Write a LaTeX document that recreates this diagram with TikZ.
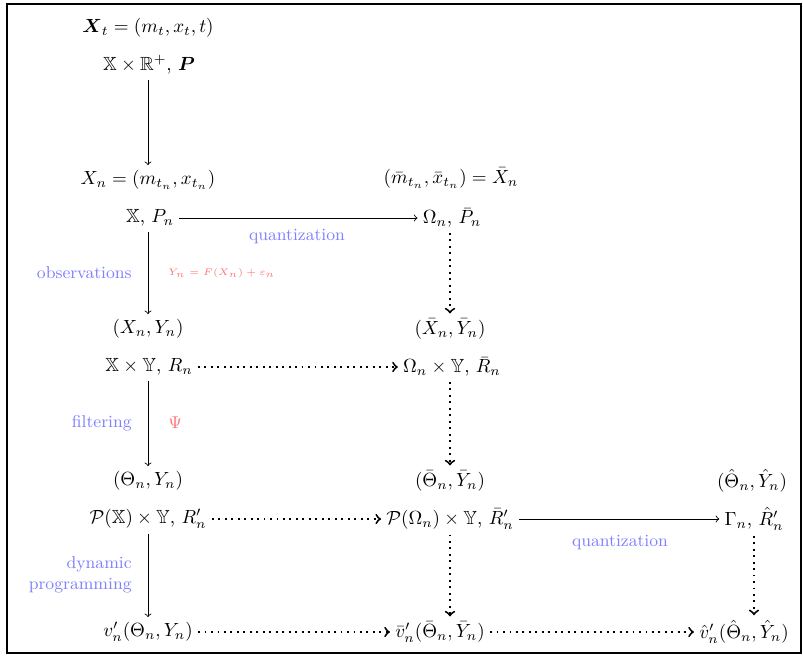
\documentclass[tikz,border=0pt]{standalone}
\usepackage{amsmath,amssymb}
\usetikzlibrary{arrows}
\begin{document}
\begin{tikzpicture}[x=0.525pt,y=-0.525pt,
  every node/.style={inner sep=2.6pt},
  solidarrow/.style={->,line width=0.45pt},
  dotarrow/.style={->,line width=1pt,dash pattern=on 1pt off 2.4pt},
  bluelabel/.style={text=blue!50,font=\small},
  redlabel/.style={text=red!55}]
\useasboundingbox (0,0) rectangle (803,660);
\draw[line width=1.5pt] (7,4) rectangle (801,653);
% column 1
\node (Xt)  at (148,28)  {$\boldsymbol{X}_t = (m_t, x_t, t)$};
\node (XR)  at (149,65)  {$\mathbb{X}\times\mathbb{R}^+$, $\boldsymbol{P}$};
\node (XnL) at (148,180) {$X_n = (m_{t_n}, x_{t_n})$};
\node (XP)  at (150,218) {$\mathbb{X}$, $P_n$};
\node (XYL) at (148,329) {$(X_n, Y_n)$};
\node (XY)  at (149,367) {$\mathbb{X}\times\mathbb{Y}$, $R_n$};
\node (TL)  at (148,481) {$(\Theta_n, Y_n)$};
\node (PX)  at (148,519) {$\mathcal{P}(\mathbb{X})\times\mathbb{Y}$, $R'_n$};
\node (V)   at (148,632) {$v'_n(\Theta_n, Y_n)$};
% column 2
\node (XbL) at (451,178) {$(\bar m_{t_n}, \bar x_{t_n}) = \bar X_n$};
\node (OP)  at (452,218) {$\Omega_n$, $\bar P_n$};
\node (XYbL) at (450,329) {$(\bar X_n, \bar Y_n)$};
\node (OY)  at (452,367) {$\Omega_n\times\mathbb{Y}$, $\bar R_n$};
\node (TbL) at (450,481) {$(\bar\Theta_n, \bar Y_n)$};
\node (PO)  at (450,519) {$\mathcal{P}(\Omega_n)\times\mathbb{Y}$, $\bar R'_n$};
\node (Vb)  at (440,632) {$\bar v'_n(\bar\Theta_n, \bar Y_n)$};
% column 3
\node (ThL) at (752,481) {$(\hat\Theta_n, \hat Y_n)$};
\node (G)   at (754,519) {$\Gamma_n$, $\hat R'_n$};
\node (Vh)  at (744,632) {$\hat v'_n(\hat\Theta_n, \hat Y_n)$};
% labels
\node[bluelabel] (q1) at (297,237) {quantization};
\node[bluelabel,anchor=east] (obs) at (137,273) {observations};
\node[redlabel,anchor=west,font=\tiny] (obsF) at (163,273) {$Y_n = F(X_n) + \varepsilon_n$};
\node[bluelabel,anchor=east] (filt) at (137,423) {filtering};
\node[redlabel,anchor=west,font=\small] (psi) at (163,423) {$\Psi$};
\node[bluelabel,anchor=east,align=right] (dyn) at (137,575) {dynamic\\programming};
\node[bluelabel] (q2) at (620,543) {quantization};
% vertical arrows
\draw[solidarrow] (XR.south -| XnL) -- (XnL.north);
\draw[solidarrow] (XP.south -| XnL) -- (XYL.north -| XnL);
\draw[solidarrow] (XY.south -| XnL) -- (TL.north -| XnL);
\draw[solidarrow] (PX.south -| XnL) -- (V.north -| XnL);
\draw[dotarrow] (OP.south -| XYbL) -- (XYbL.north);
\draw[dotarrow] (OY.south -| XYbL) -- (TbL.north -| XYbL);
\draw[dotarrow] (PO.south -| XYbL) -- (Vb.north -| XYbL);
\draw[dotarrow] (G.south) -- (Vh.north -| G);
% horizontal arrows
\draw[solidarrow] (XP.east) -- (OP.west);
\draw[dotarrow] (XY.east) -- (OY.west);
\draw[dotarrow] (PX.east) -- (PO.west);
\draw[solidarrow] (PO.east) -- (G.west);
\draw[dotarrow] (V.east) -- (Vb.west);
\draw[dotarrow] (Vb.east) -- (Vh.west);
\end{tikzpicture}
\end{document}
